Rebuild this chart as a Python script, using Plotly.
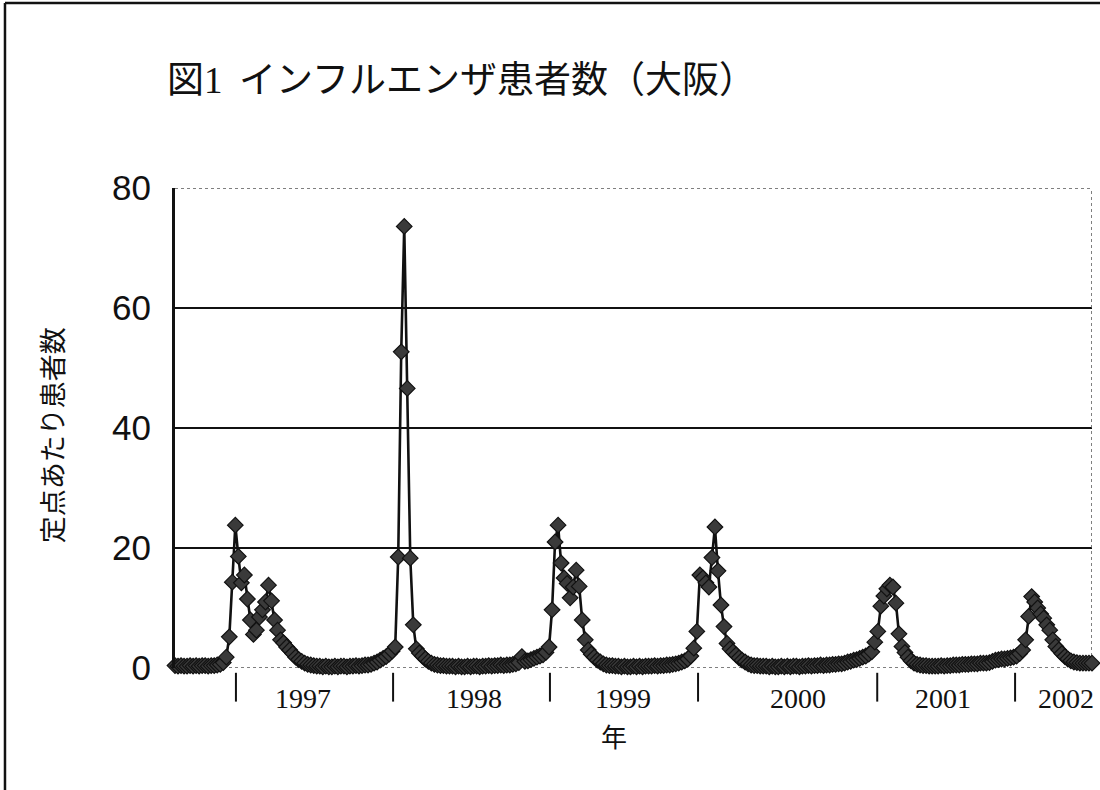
import plotly.graph_objects as go

# Weekly influenza cases per sentinel site, Osaka (late 1996 - 2002)
weekly_rate = [
    0.4, 0.3, 0.4, 0.3, 0.3, 0.4, 0.3, 0.4, 0.3, 0.4, 0.4, 0.3, 0.4, 0.4,
    0.5, 0.6, 0.9, 1.8, 5.2, 14.3, 23.8, 18.6, 14.2, 15.5, 11.5, 8.0, 5.6, 6.3,
    8.5, 9.7, 11.0, 13.8, 11.2, 8.0, 6.3, 4.7, 4.2, 3.5, 3.0, 2.4, 1.8, 1.4,
    1.1, 0.8, 0.6, 0.5,
    0.4, 0.3, 0.3, 0.2, 0.3, 0.2, 0.2, 0.3, 0.2, 0.3, 0.3, 0.2, 0.3, 0.3,
    0.4, 0.3, 0.4, 0.5, 0.5, 0.6,
    0.8, 1.0, 1.3, 1.6, 1.9, 2.3, 2.8, 3.5, 18.5, 52.7, 73.6, 46.6, 18.3, 7.2,
    3.2, 2.5, 2.0, 1.5, 1.1, 0.8, 0.6, 0.5,
    0.4, 0.4, 0.3, 0.3, 0.3, 0.2, 0.3, 0.2, 0.2, 0.3, 0.2, 0.3, 0.3, 0.2,
    0.3, 0.3, 0.4, 0.3, 0.4, 0.4, 0.5, 0.4, 0.5, 0.5, 0.6,
    0.7, 0.9, 1.9, 1.1, 1.2, 1.4, 1.6, 1.8, 2.0, 2.2, 2.6, 3.5, 9.7, 21.0,
    23.8, 17.5, 15.0, 14.1, 11.7, 13.5, 16.3, 13.6, 8.0, 4.7, 3.0, 2.3, 1.8,
    1.3, 1.0, 0.7, 0.5,
    0.4, 0.4, 0.3, 0.3, 0.2, 0.3, 0.2, 0.2, 0.3, 0.2, 0.3, 0.2, 0.3, 0.3,
    0.3, 0.4, 0.3, 0.4, 0.4, 0.5, 0.5, 0.6, 0.7, 0.8,
    1.0, 1.2, 1.5, 2.0, 3.3, 6.1, 15.5, 15.0, 14.2, 13.5, 18.4, 23.5, 16.2,
    10.5, 6.9, 4.1, 3.2, 2.7, 2.2, 1.7, 1.3, 1.0, 0.7, 0.5,
    0.4, 0.4, 0.3, 0.3, 0.3, 0.2, 0.3, 0.2, 0.2, 0.3, 0.2, 0.3, 0.2, 0.3,
    0.3, 0.2, 0.3, 0.3, 0.4, 0.3, 0.4, 0.4, 0.5, 0.4, 0.5, 0.5, 0.6, 0.6,
    0.7, 0.7,
    0.8, 1.0, 1.1, 1.3, 1.4, 1.6, 1.8, 2.0, 2.3, 2.7, 4.3, 6.1, 10.3, 12.0,
    13.2, 13.8, 13.5, 10.8, 5.7, 3.6, 2.6, 1.8, 1.2, 0.8, 0.6, 0.5,
    0.4, 0.4, 0.3, 0.3, 0.3, 0.3, 0.4, 0.3, 0.4, 0.4, 0.5, 0.5, 0.5, 0.6,
    0.6, 0.6, 0.7, 0.7, 0.7, 0.8, 0.8, 0.8,
    0.9, 1.1, 1.3, 1.4, 1.5, 1.5, 1.6, 1.7, 1.8, 2.0, 2.4, 3.0, 4.7, 8.6,
    11.9, 11.0, 10.0, 9.0, 8.3, 7.2, 6.3, 4.7, 3.6, 3.0, 2.4, 1.9, 1.5, 1.2,
    1.0, 0.9, 0.8, 0.8, 0.8, 0.8, 0.8,
]
weeks = list(range(len(weekly_rate)))

# Year boundaries (week index) and the year label centred in each span
year_marks = [20.2, 72.3, 124.3, 173.4, 232.8, 278.5]
year_labels = ["1997", "1998", "1999", "2000", "2001", "2002"]
year_label_pos = [42.5, 99.0, 148.5, 206.5, 254.6, 295.4]

y_ticks = [0, 20, 40, 60, 80]
grid_levels = [20, 40, 60]

x_max = len(weekly_rate) - 1
y_max = 80

fig = go.Figure()
fig.add_trace(go.Scatter(
    x=weeks, y=weekly_rate, mode="lines+markers",
    line=dict(color="#111111", width=2.6),
    marker=dict(symbol="diamond", size=12, color="#3a3a3a",
                line=dict(color="#111111", width=1.2)),
    cliponaxis=False, showlegend=False,
))

shapes = []
# horizontal gridlines
for g in grid_levels:
    shapes.append(dict(type="line", xref="x", yref="y", x0=0, x1=x_max, y0=g, y1=g,
                       line=dict(color="#111111", width=2), layer="below"))
# dotted frame: bottom, top, right
for (x0, y0, x1, y1) in [(0, 0, x_max, 0), (0, y_max, x_max, y_max), (x_max, 0, x_max, y_max)]:
    shapes.append(dict(type="line", xref="x", yref="y", x0=x0, y0=y0, x1=x1, y1=y1,
                       line=dict(color="#555555", width=1.5, dash="dot"), layer="below"))
# year separators below the axis
for m in year_marks:
    shapes.append(dict(type="line", xref="x", yref="paper", x0=m, x1=m, y0=-0.01, y1=-0.07,
                       line=dict(color="#111111", width=2)))
# outer figure frame (left and top)
shapes.append(dict(type="line", xref="paper", yref="paper", x0=-0.1854, x1=-0.1854,
                   y0=1.3854, y1=-0.26, line=dict(color="#111111", width=2.5)))
shapes.append(dict(type="line", xref="paper", yref="paper", x0=-0.1854, x1=1.01,
                   y0=1.3854, y1=1.3854, line=dict(color="#111111", width=2.5)))

annotations = []
for lab, pos in zip(year_labels, year_label_pos):
    annotations.append(dict(x=pos, y=-0.0625, xref="x", yref="paper", text=lab,
                            showarrow=False, xanchor="center", yanchor="middle",
                            font=dict(family="Liberation Serif", size=28, color="#111111")))
annotations.append(dict(x=0.479, y=-0.1396, xref="paper", yref="paper", text="年",
                        showarrow=False, xanchor="center", yanchor="middle",
                        font=dict(family="Noto Sans CJK JP", size=26, color="#111111")))
annotations.append(dict(x=-0.1352, y=0.485, xref="paper", yref="paper",
                        text="定点あたり患者数", textangle=-90, showarrow=False,
                        xanchor="center", yanchor="middle",
                        font=dict(family="Noto Sans CJK JP", size=27, color="#111111")))
annotations.append(dict(x=-0.011, y=1.232, xref="paper", yref="paper",
                        text="図<span style='font-family:Liberation Serif'>1</span>  インフルエンザ患者数（大阪）",
                        showarrow=False, xanchor="left", yanchor="middle",
                        font=dict(family="Noto Sans CJK JP", size=37, color="#111111",
                                  weight="normal")))

fig.update_layout(
    width=1100, height=790,
    margin=dict(l=175, r=8, t=188, b=122),
    paper_bgcolor="white", plot_bgcolor="white",
    shapes=shapes, annotations=annotations,
    xaxis=dict(range=[0, x_max], visible=False, fixedrange=True),
    yaxis=dict(range=[0, y_max], tickvals=y_ticks, showgrid=False, zeroline=False,
               showline=True, linecolor="#111111", linewidth=3, ticks="",
               ticklabelstandoff=14,
               tickfont=dict(family="Liberation Sans", size=35, color="#111111")),
)

fig.write_html("out.html")
